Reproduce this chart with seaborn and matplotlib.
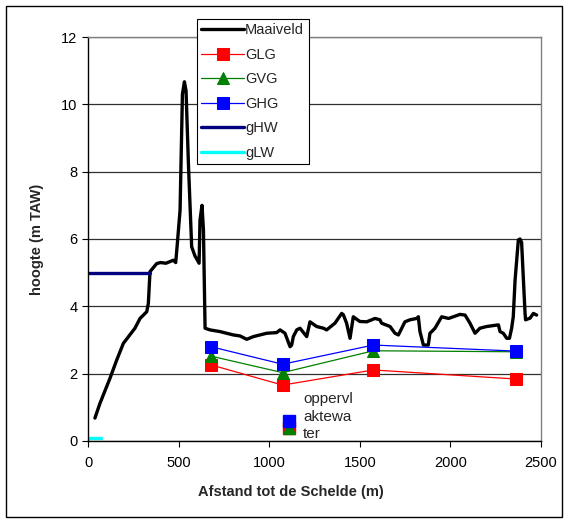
import matplotlib
matplotlib.use("Agg")
import matplotlib.pyplot as plt
import seaborn as sns
from matplotlib.patches import Rectangle

# ground profile (Maaiveld)
maaiveld_x = [38, 66, 121, 158, 195, 259, 287, 324, 333, 342, 379, 400, 430, 471, 484,
              493, 508, 521, 532, 541, 554, 572, 590, 613, 618, 629, 637, 646, 673, 728,
              802, 839, 876, 912, 986, 1041, 1060, 1087, 1115, 1124, 1133, 1152, 1170,
              1207, 1225, 1262, 1299, 1317, 1363, 1400, 1409, 1427, 1446, 1464, 1500,
              1538, 1584, 1611, 1620, 1667, 1694, 1713, 1749, 1777, 1814, 1823, 1832,
              1851, 1878, 1887, 1897, 1915, 1952, 1990, 2053, 2081, 2108, 2136, 2163,
              2200, 2265, 2274, 2292, 2311, 2326, 2338, 2347, 2357, 2375, 2384, 2393,
              2412, 2415, 2440, 2458, 2476]
maaiveld_y = [0.68, 1.12, 1.86, 2.4, 2.9, 3.35, 3.64, 3.84, 4.09, 5.03, 5.27, 5.3, 5.28, 5.37, 5.3,
              5.87, 6.86, 10.3, 10.67, 10.4, 8.25, 5.77, 5.5, 5.28, 6.56, 7.0, 6.27, 3.35, 3.3, 3.25,
              3.15, 3.12, 3.02, 3.1, 3.2, 3.22, 3.3, 3.2, 2.8, 2.85, 3.1, 3.3, 3.35,
              3.1, 3.54, 3.4, 3.35, 3.3, 3.5, 3.79, 3.75, 3.5, 3.05, 3.69, 3.55,
              3.54, 3.64, 3.6, 3.5, 3.4, 3.2, 3.15, 3.54, 3.6, 3.64, 3.69, 3.25,
              2.85, 2.85, 3.2, 3.25, 3.35, 3.69, 3.64, 3.76, 3.74, 3.5, 3.2, 3.35,
              3.4, 3.45, 3.25, 3.2, 3.05, 3.05, 3.35, 3.69, 4.78, 5.97, 6.0, 5.9,
              3.79, 3.6, 3.65, 3.79, 3.74]

# groundwater levels at the wells
well_x = [679, 1074, 1575, 2362]
glg = [2.26, 1.66, 2.11, 1.84]
gvg = [2.52, 2.03, 2.68, 2.65]
ghg = [2.8, 2.28, 2.85, 2.67]

# surface water point
opp_x = [1111]
opp_glg = [0.38]
opp_gvg = [0.4]
opp_ghg = [0.6]

# river levels
ghw_x = [0, 342]
ghw_y = [5.0, 5.0]
glw_x = [0, 72]
glw_y = [0.08, 0.08]

sns.set_style("white")
plt.rcParams['font.family'] = ['Liberation Sans', 'DejaVu Sans']

fig = plt.figure(figsize=(5.65, 5.22), dpi=100)
ax = fig.add_axes([0.1558, 0.1552, 0.8017, 0.7739])

sns.lineplot(x=maaiveld_x, y=maaiveld_y, sort=False, estimator=None, color='black',
             lw=2.4, ax=ax, label='Maaiveld')
sns.lineplot(x=well_x, y=glg, sort=False, estimator=None, color='red', lw=0.9,
             marker='s', markersize=9, markeredgecolor='red', ax=ax, label='GLG')
sns.lineplot(x=well_x, y=gvg, sort=False, estimator=None, color='green', lw=0.9,
             marker='^', markersize=9, markeredgecolor='green', ax=ax, label='GVG')
sns.lineplot(x=well_x, y=ghg, sort=False, estimator=None, color='blue', lw=0.9,
             marker='s', markersize=9, markeredgecolor='blue', ax=ax, label='GHG')
sns.lineplot(x=ghw_x, y=ghw_y, sort=False, estimator=None, color='#000080', lw=2.4,
             ax=ax, label='gHW')
sns.lineplot(x=glw_x, y=glw_y, sort=False, estimator=None, color='cyan', lw=2.4,
             ax=ax, label='gLW')

ax.plot(opp_x, opp_glg, 's', color='red', markersize=9)
ax.plot(opp_x, opp_gvg, '^', color='green', markersize=9)
ax.plot(opp_x, opp_ghg, 's', color='blue', markersize=9)
ax.text(1188, 0.72, 'oppervl\naktewa\nter', fontsize=11, va='center', ha='left',
        linespacing=1.3)

ax.set_xlim(0, 2500)
ax.set_ylim(0, 12)
ax.set_xticks([0, 500, 1000, 1500, 2000, 2500])
ax.set_yticks([0, 2, 4, 6, 8, 10, 12])
ax.yaxis.grid(True, color='#303030', lw=0.9)
ax.xaxis.grid(False)
ax.tick_params(axis='both', direction='out', length=4, width=0.8, labelsize=10.5,
               left=True, bottom=True, colors='black')
ax.tick_params(axis='x', pad=7)
for side in ['left', 'bottom']:
    ax.spines[side].set_color('black')
for side in ['top', 'right']:
    ax.spines[side].set_color('#808080')
for s in ax.spines.values():
    s.set_linewidth(1)

ax.set_xlabel('Afstand tot de Schelde (m)', fontsize=10.5, fontweight='bold')
ax.xaxis.set_label_coords((291 - 88) / 453, -0.108)
ax.set_ylabel('hoogte (m TAW)', fontsize=10.5, fontweight='bold')
ax.yaxis.set_label_coords(-0.097, 0.5)

leg = ax.legend(loc='upper left', bbox_to_anchor=(197 / 565, 1 - 19 / 522),
                bbox_transform=fig.transFigure, frameon=True, fancybox=False,
                fontsize=10.5, handlelength=2.9, handletextpad=0.1, labelspacing=0.72,
                borderpad=0.3, borderaxespad=0)
leg.get_frame().set_edgecolor('black')
leg.get_frame().set_linewidth(0.8)
leg.get_frame().set_alpha(1)
leg.set_zorder(10)

fig.patches.append(Rectangle((6 / 565, 5 / 522), 556 / 565, 511 / 522, fill=False,
                             edgecolor='black', lw=1, transform=fig.transFigure))

plt.savefig('out.png', dpi=100)
